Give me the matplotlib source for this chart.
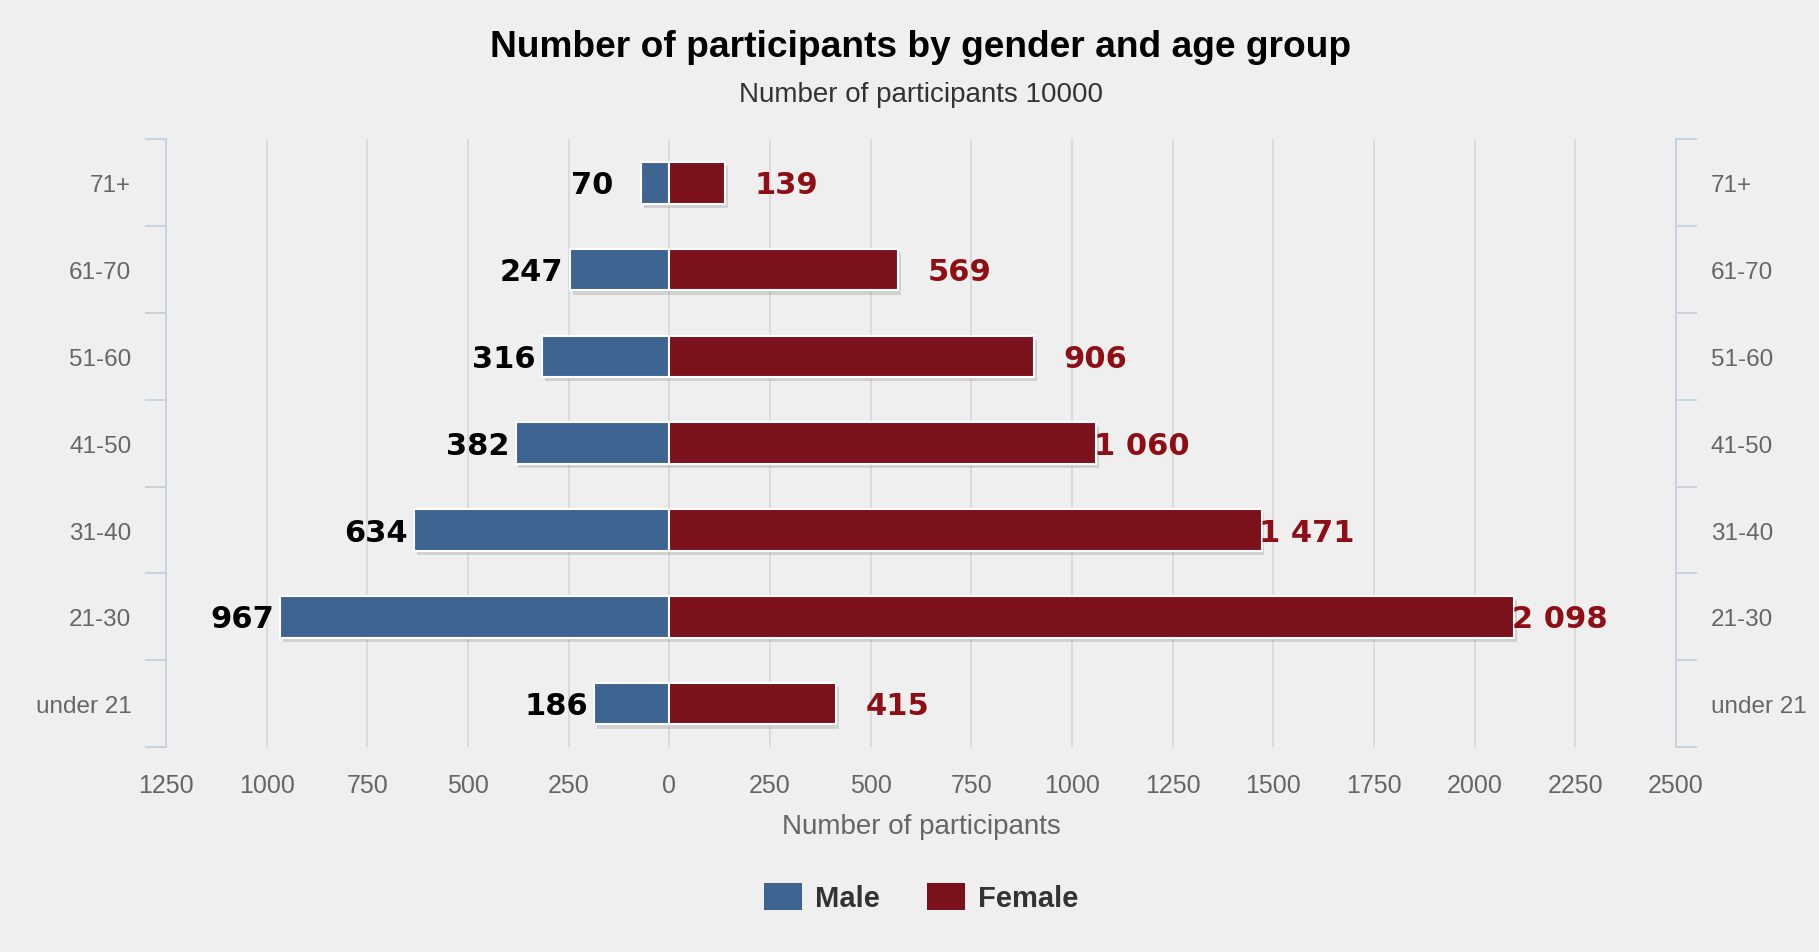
# Population-pyramid style bar chart: participants by gender and age group

import numpy as np
import matplotlib.pyplot as plt
from matplotlib import patheffects as pe
from matplotlib.patches import Patch


age_groups = ['under 21', '21-30', '31-40', '41-50', '51-60', '61-70', '71+']
male = [186, 967, 634, 382, 316, 247, 70]
female = [415, 2098, 1471, 1060, 906, 569, 139]

x_ticks = [-1250, -1000, -750, -500, -250, 0, 250, 500, 750, 1000,
           1250, 1500, 1750, 2000, 2250, 2500]
x_tick_labels = [str(abs(t)) for t in x_ticks]

blue = '#3e6592'
red = '#7b111b'
label_red = '#8e0e16'
axis_col = '#c3d1e0'
bg = '#efefef'


def fmt(v):
    # thousands separated by a space, e.g. 2 098
    return '{:,}'.format(v).replace(',', ' ')


W, H = 1819, 953
fig = plt.figure(figsize=(W / 100, H / 100), dpi=100, facecolor=bg)
ax = fig.add_axes([166 / W, 205 / H, 1510 / W, 607.6 / H])
ax.set_facecolor(bg)

y = np.arange(len(age_groups))
shadow = [pe.SimplePatchShadow(offset=(2, -3), shadow_rgbFace='#9a9a9a', alpha=0.35),
          pe.Normal()]

bars_m = ax.barh(y, [-m for m in male], height=0.48, color=blue,
                 edgecolor='white', linewidth=1.5, zorder=3)
bars_f = ax.barh(y, female, height=0.48, color=red,
                 edgecolor='white', linewidth=1.5, zorder=3)
for b in list(bars_m) + list(bars_f):
    b.set_path_effects(shadow)

# value labels
for yi, m, f in zip(y, male, female):
    ax.annotate(fmt(m), xy=(-m, yi), xytext=(-70, -2), textcoords='offset pixels',
                ha='left', va='center', fontsize=22, fontweight='bold',
                family='DejaVu Sans', color='black', zorder=4)
    ax.annotate(fmt(f), xy=(f, yi), xytext=(93, -2), textcoords='offset pixels',
                ha='right', va='center', fontsize=22, fontweight='bold',
                family='DejaVu Sans', color=label_red, zorder=4)

ax.set_xlim(-1250, 2500)
ax.set_ylim(-0.5, len(age_groups) - 0.5)
ax.set_xticks(x_ticks)
ax.set_xticklabels(x_tick_labels, family='Liberation Sans', fontsize=18, color='#666666')
ax.tick_params(axis='x', length=0, pad=19)
ax.grid(axis='x', color='#d6d6d6', linewidth=1.2, zorder=0)
ax.set_axisbelow(True)

ax.set_xlabel('Number of participants', family='Liberation Sans', fontsize=20,
              color='#666666', labelpad=11)

for s in ['top', 'bottom', 'right']:
    ax.spines[s].set_visible(False)
ax.spines['left'].set_color(axis_col)
ax.spines['left'].set_linewidth(1.3)

# second category axis on the right
ax2 = ax.twinx()
ax2.set_ylim(ax.get_ylim())
for s in ['top', 'bottom', 'left']:
    ax2.spines[s].set_visible(False)
ax2.spines['right'].set_color(axis_col)
ax2.spines['right'].set_linewidth(1.3)

bounds = np.arange(-0.5, len(age_groups))
for a in (ax, ax2):
    a.set_yticks(bounds)
    a.set_yticklabels([])
    a.set_yticks(y, minor=True)
    a.set_yticklabels(age_groups, minor=True, family='Liberation Sans',
                      fontsize=17.5, color='#666666')
    a.tick_params(axis='y', which='major', length=15, width=1.3, color=axis_col)
    a.tick_params(axis='y', which='minor', length=0, pad=25)

cx = (166 + 1676) / 2 / W
fig.text(cx, 1 - 47.5 / H, 'Number of participants by gender and age group',
         ha='center', va='center', family='Liberation Sans', fontsize=26.7,
         fontweight='bold', color='black')
fig.text(cx, 1 - 95.5 / H, 'Number of participants 10000',
         ha='center', va='center', family='Liberation Sans', fontsize=20,
         color='#333333')

handles = [Patch(facecolor=blue), Patch(facecolor=red)]
fig.legend(handles, ['Male', 'Female'], loc='center',
           bbox_to_anchor=(cx, 1 - 898.5 / H), ncol=2, frameon=False,
           prop={'family': 'Liberation Sans', 'weight': 'bold', 'size': 21},
           labelcolor='#333333', handlelength=1.3, handleheight=1.03,
           handletextpad=0.45, columnspacing=1.6)

plt.savefig('out.png', dpi=100, facecolor=bg)
